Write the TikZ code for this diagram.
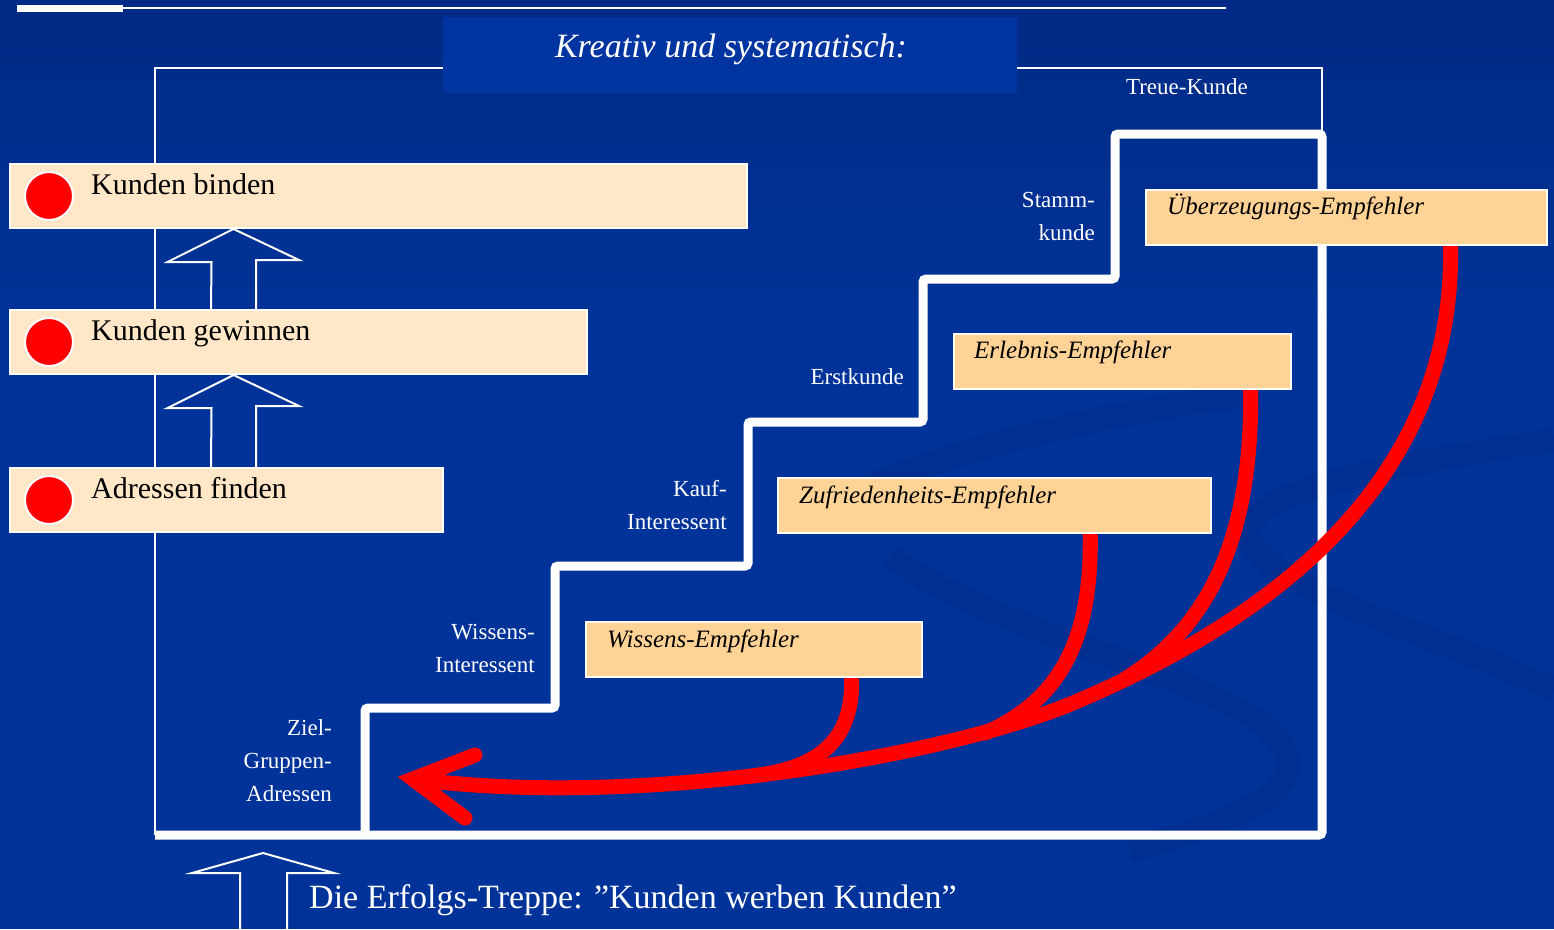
\documentclass[tikz,border=0pt]{standalone}
\usepackage{fontspec}
\setmainfont{Liberation Serif}
\usetikzlibrary{calc}

\definecolor{hgoben}{RGB}{0,42,133}
\definecolor{hgblau}{RGB}{0,51,153}
\definecolor{titelblau}{RGB}{0,52,160}
\definecolor{wirbel}{RGB}{0,47,145}
\definecolor{zielbeige}{RGB}{255,231,200}
\definecolor{empfbeige}{RGB}{255,211,150}
\definecolor{pfeilrot}{RGB}{255,0,0}

\begin{document}
\begin{tikzpicture}[x=1pt,y=-1pt,
    kasten/.style={draw=white,line width=2pt,fill=zielbeige,minimum height=64pt,inner sep=0pt},
    empfkasten/.style={draw=white,line width=2pt,fill=empfbeige,minimum height=55pt,inner sep=0pt},
    punkt/.style={circle,draw=white,line width=2pt,fill=pfeilrot,minimum size=48pt,inner sep=0pt},
    zieltext/.style={anchor=base west,inner sep=0pt,font=\fontsize{30}{36}\selectfont},
    empftext/.style={anchor=base west,inner sep=0pt,font=\fontsize{25}{30}\selectfont\itshape},
    stufe/.style={anchor=north east,align=right,inner sep=0pt,text=white,font=\fontsize{23}{33}\selectfont},
    rahmen/.style={white,line width=2pt},
    treppe/.style={white,line width=9pt,rounded corners=3pt},
    hohl/.style={white,line width=2pt,line join=miter},
    rot/.style={pfeilrot,line width=15pt},
    wirbelband/.style={wirbel,line width=24pt}]

  \useasboundingbox (0,0) rectangle (1554,929);

  % Hintergrund
  \shade[top color=hgoben,bottom color=hgblau] (0,0) rectangle (1554,330);
  \fill[hgblau] (0,329) rectangle (1554,929);
  \draw[wirbelband] (870,485) .. controls (1000,435) and (1150,405) .. (1260,395);
  \draw[wirbelband] (1554,440) .. controls (1350,470) and (1230,500) .. (1250,540)
                    .. controls (1270,590) and (1450,640) .. (1554,690);
  \draw[wirbelband] (890,555) .. controls (1000,640) and (1250,680) .. (1285,750)
                    .. controls (1310,800) and (1200,830) .. (1130,850);

  % Linien oben
  \fill[white] (17,5) rectangle (123,12);
  \draw[rahmen] (123,8) -- (1226,8);

  % Rahmen und Treppe
  \draw[rahmen] (155,835) -- (155,68) -- (1322,68) -- (1322,134);
  \draw[treppe] (155,835) -- (1322,835) -- (1322,134) -- (1115,134) -- (1115,279)
                -- (923,279) -- (923,422) -- (748,422) -- (748,566) -- (555,566)
                -- (555,708) -- (365,708) -- (365,835);

  % Titel
  \node[fill=titelblau,minimum width=574pt,minimum height=76pt,inner sep=0pt] (titelfeld) at (730,55) {};
  \node[anchor=base,inner sep=0pt,text=white,font=\fontsize{34}{40}\selectfont\itshape] (titel)
    at (731,57) {Kreativ und systematisch:};

  % Stufen
  \node[stufe] (treue)  at (1248,78)  {Treue-Kunde};
  \node[stufe] (stamm)  at (1095,192) {Stamm-\\kunde};
  \node[stufe] (erst)   at (904,368)  {Erstkunde};
  \node[stufe] (kauf)   at (727,480)  {Kauf-\\Interessent};
  \node[stufe] (wissen) at (535,624)  {Wissens-\\Interessent};
  \node[stufe] (ziel)   at (332,719)  {Ziel-\\Gruppen-\\Adressen};

  % Empfehler-Kaesten
  \begin{scope}[every node/.style={empfkasten}]
    \node (ueber)   at (1346.5,217) [minimum width=401pt] {};
    \node (erleb)   at (1122.5,361) [minimum width=337pt] {};
    \node (zufried) at (994.5,505.5) [minimum width=433pt] {};
    \node (wissE)   at (754,649.5)  [minimum width=336pt] {};
  \end{scope}

  % rote Pfeile
  \coordinate (spitze) at (413,779);
  \coordinate (m1) at (1125,679);
  \coordinate (m2) at (985,733);
  \coordinate (m3) at (752,776);
  \draw[rot] ($(ueber.south west)!0.758!(ueber.south east)$) .. controls (1455,470) and (1290,610) .. (1080,700)
             .. controls (960,753) and (650,810) .. (spitze);
  \draw[rot,line cap=round] ($(erleb.south west)!0.878!(erleb.south east)$) .. controls (1252,520) and (1220,620) .. (m1);
  \draw[rot,line cap=round] ($(zufried.south west)!0.72!(zufried.south east)$) .. controls (1092,640) and (1060,700) .. (m2);
  \draw[rot,line cap=round] ($(wissE.south west)!0.789!(wissE.south east)$) .. controls (853,740) and (820,768) .. (m3);
  \draw[rot,line cap=round,line join=miter] (spitze) ++(62,-24) -- (spitze) -- ++(52,39);

  % Kaesten neu zeichnen (ueber den Pfeilanfaengen)
  \begin{scope}[every node/.style={empfkasten}]
    \node at (ueber)   [minimum width=401pt] {};
    \node at (erleb)   [minimum width=337pt] {};
    \node at (zufried) [minimum width=433pt] {};
    \node at (wissE)   [minimum width=336pt] {};
  \end{scope}
  \node[empftext] at ($(ueber.north west)+(22,26)$)   {Überzeugungs-Empfehler};
  \node[empftext] at ($(erleb.north west)+(21,26)$)   {Erlebnis-Empfehler};
  \node[empftext] at ($(zufried.north west)+(22,26)$) {Zufriedenheits-Empfehler};
  \node[empftext] at ($(wissE.north west)+(22,26)$)   {Wissens-Empfehler};

  % Ziele links
  \begin{scope}[every node/.style={kasten}]
    \node (binden)   at (378.5,196) [minimum width=737pt] {};
    \node (gewinnen) at (298.5,342) [minimum width=577pt] {};
    \node (finden)   at (226.5,500) [minimum width=433pt] {};
  \end{scope}
  \node[punkt] (p1) at ($(binden.west)+(40,0)$)   {};
  \node[punkt] (p2) at ($(gewinnen.west)+(40,0)$) {};
  \node[punkt] (p3) at ($(finden.west)+(40,0)$)   {};
  \node[zieltext] at ($(binden.west)+(82,-2)$)   {Kunden binden};
  \node[zieltext] at ($(gewinnen.west)+(82,-2)$) {Kunden gewinnen};
  \node[zieltext] at ($(finden.west)+(82,-2)$)   {Adressen finden};

  % Hohlpfeile
  \draw[hohl] ($(gewinnen.north west)+(247,0)$) -- ++(0,-49) -- ++(43,0)
              -- ($(binden.south west)+(224.5,0)$) -- ++(-66,33) -- ++(44,0)
              -- ($(gewinnen.north west)+(202,0)$);
  \draw[hohl] ($(finden.north west)+(247,0)$) -- ++(0,-61) -- ++(43,0)
              -- ($(gewinnen.south west)+(224.5,0)$) -- ++(-66,33) -- ++(44,0)
              -- ($(finden.north west)+(202,0)$);
  \coordinate (basis) at (263,853);
  \draw[hohl] (basis) ++(-23,82) -- ++(0,-62) -- ++(-48,0) -- (basis) -- ++(71,20) -- ++(-47,0) -- ++(0,62);

  % Unterschrift
  \node[anchor=base west,inner sep=0pt,text=white,font=\fontsize{34}{40}\selectfont] (treppentitel)
    at (309,908) {Die Erfolgs-Treppe: ”Kunden werben Kunden”};

\end{tikzpicture}
\end{document}
